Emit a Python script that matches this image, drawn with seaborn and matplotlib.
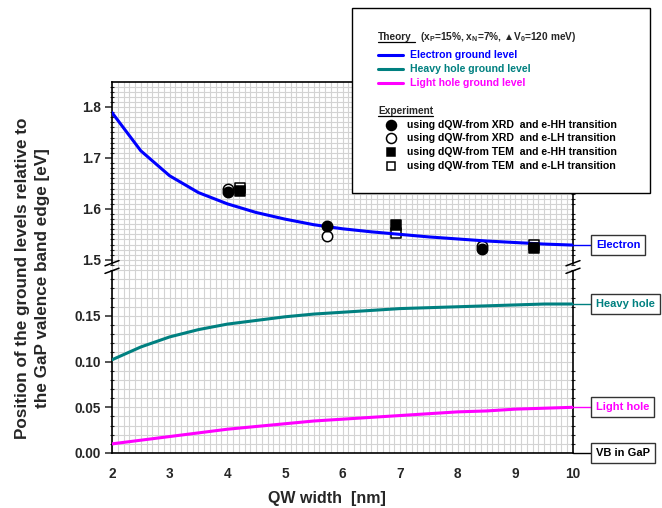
import numpy as np
import pandas as pd
import seaborn as sns
import matplotlib
matplotlib.use("Agg")
import matplotlib.pyplot as plt
from matplotlib.lines import Line2D
from matplotlib.patches import Rectangle
import matplotlib.transforms as mtransforms
from matplotlib.ticker import MultipleLocator, FormatStrFormatter

# ---------------- data ----------------
qw_width = [2, 2.5, 3, 3.5, 4, 4.5, 5, 5.5, 6, 6.5, 7, 7.5, 8, 8.5, 9, 9.5, 10]
electron = [1.789, 1.714, 1.665, 1.632, 1.610, 1.593, 1.580, 1.569, 1.561,
            1.555, 1.550, 1.545, 1.541, 1.537, 1.534, 1.531, 1.529]
heavy_hole = [0.102, 0.116, 0.127, 0.135, 0.141, 0.145, 0.149, 0.152, 0.154,
              0.156, 0.158, 0.159, 0.160, 0.161, 0.162, 0.163, 0.163]
light_hole = [0.010, 0.014, 0.018, 0.022, 0.026, 0.029, 0.032, 0.035, 0.037,
              0.039, 0.041, 0.043, 0.045, 0.046, 0.048, 0.049, 0.050]

xrd_hh_x = [4.02, 5.73, 8.42]
xrd_hh_y = [1.634, 1.567, 1.522]
xrd_lh_x = [4.01, 5.73, 8.42]
xrd_lh_y = [1.640, 1.547, 1.527]
tem_hh_x = [4.22, 6.92, 9.32]
tem_hh_y = [1.635, 1.569, 1.524]
tem_lh_x = [4.22, 6.92, 9.32]
tem_lh_y = [1.641, 1.552, 1.530]

x_ticks = [2, 3, 4, 5, 6, 7, 8, 9, 10]
top_ticks = [1.5, 1.6, 1.7, 1.8]
bot_ticks = [0.00, 0.05, 0.10, 0.15]

C_E = "#0000ff"
C_HH = "#008080"
C_LH = "#ff00ff"
GRID = "#d3d3d3"

# ---------------- style ----------------
sns.set_style("white")
plt.rcParams["font.family"] = ["Liberation Sans", "DejaVu Sans"]
plt.rcParams["font.weight"] = "bold"
plt.rcParams["mathtext.fontset"] = "custom"
plt.rcParams["mathtext.bf"] = "Liberation Sans:bold"
plt.rcParams["mathtext.rm"] = "Liberation Sans:bold"
plt.rcParams["mathtext.it"] = "Liberation Sans:bold"
plt.rcParams["mathtext.default"] = "bf"

W, H = 662, 508
fig = plt.figure(figsize=(W / 100, H / 100), dpi=100)


def fx(px):
    return px / W


def fy(py):
    return 1 - py / H


L, R, T, B, MID = 112, 573, 82, 453, 267
ax_top = fig.add_axes([fx(L), fy(MID), fx(R) - fx(L), fy(T) - fy(MID)])
ax_bot = fig.add_axes([fx(L), fy(B), fx(R) - fx(L), fy(MID) - fy(B)], sharex=ax_top)

ax_top.set_ylim(1.486, 1.849)
ax_bot.set_ylim(0, 0.2035)
ax_bot.set_xlim(2, 10)

for ax in (ax_top, ax_bot):
    ax.set_facecolor("white")
    ax.xaxis.set_major_locator(MultipleLocator(1))
    ax.xaxis.set_minor_locator(MultipleLocator(0.1))
    ax.yaxis.set_minor_locator(MultipleLocator(0.01))
    ax.grid(True, which="both", color=GRID, lw=0.8, zorder=0)
    ax.set_axisbelow(True)
    for s in ax.spines.values():
        s.set_color("black")
        s.set_linewidth(1.2)
    ax.tick_params(axis="y", which="major", direction="out", length=5, width=1.1,
                   labelsize=9.8, pad=3, left=True, right=False)
    ax.tick_params(axis="y", which="minor", direction="out", length=2.5, width=0.8,
                   left=True, right=True)
    for lab in ax.get_yticklabels():
        lab.set_fontweight("bold")

ax_top.set_yticks(top_ticks)
ax_top.yaxis.set_major_formatter(FormatStrFormatter("%.1f"))
ax_bot.set_yticks(bot_ticks)
ax_bot.yaxis.set_major_formatter(FormatStrFormatter("%.2f"))
ax_bot.set_xticks(x_ticks)
ax_bot.xaxis.set_major_formatter(FormatStrFormatter("%d"))

ax_top.spines["bottom"].set_visible(False)
ax_bot.spines["top"].set_visible(False)
ax_top.tick_params(axis="x", which="both", bottom=False, top=False, labelbottom=False)
ax_bot.tick_params(axis="x", which="major", direction="out", length=5, width=1.1,
                   labelsize=9.8, pad=5)
ax_bot.tick_params(axis="x", which="minor", direction="in", length=3, width=0.8)
ax_top.tick_params(axis="y", which="minor", right=True, direction="inout", length=3)
ax_bot.tick_params(axis="y", which="minor", right=True, direction="inout", length=3)

# gap in spines at the break
ax_top.spines["left"].set_bounds(1.4915, 1.849)
ax_top.spines["right"].set_bounds(1.4915, 1.849)
ax_bot.spines["left"].set_bounds(0, 0.1995)
ax_bot.spines["right"].set_bounds(0, 0.1995)

# ---------------- curves ----------------
df = pd.DataFrame({"w": qw_width, "e": electron, "hh": heavy_hole, "lh": light_hole})
sns.lineplot(data=df, x="w", y="e", color=C_E, lw=2.2, ax=ax_top, zorder=3)
sns.lineplot(data=df, x="w", y="hh", color=C_HH, lw=2.2, ax=ax_bot, zorder=3)
sns.lineplot(data=df, x="w", y="lh", color=C_LH, lw=2.2, ax=ax_bot, zorder=3)
for ax in (ax_top, ax_bot):
    ax.set_xlabel("")
    ax.set_ylabel("")

# experimental points
sns.scatterplot(x=xrd_lh_x, y=xrd_lh_y, marker="o", s=56, color="white",
                edgecolor="black", linewidth=1.1, ax=ax_top, zorder=2.5)
sns.scatterplot(x=tem_lh_x, y=tem_lh_y, marker="s", s=44, color="white",
                edgecolor="black", linewidth=1.1, ax=ax_top, zorder=2.5)
sns.scatterplot(x=xrd_hh_x, y=xrd_hh_y, marker="o", s=56, color="black",
                edgecolor="black", linewidth=1.1, ax=ax_top, zorder=4)
sns.scatterplot(x=tem_hh_x, y=tem_hh_y, marker="s", s=44, color="black",
                edgecolor="black", linewidth=1.1, ax=ax_top, zorder=4)

# break marks
for xc in (L, R):
    for yc in (MID - 3.8, MID + 3.8):
        fig.add_artist(Line2D([fx(xc - 7), fx(xc + 7)], [fy(yc + 2.6), fy(yc - 2.6)],
                              color="black", lw=1.1, zorder=10))

# ---------------- right-hand level labels ----------------
def level_label(ax, y, text, color, edge="#333333"):
    tr = mtransforms.blended_transform_factory(ax.transAxes, ax.transData)
    ax.plot([1.0, 1.039], [y, y], transform=tr, color=color, lw=1, clip_on=False, zorder=5)
    ax.text(1.0498, y, text, transform=tr, ha="left", va="center", fontsize=8,
            fontweight="bold", color=color, zorder=6,
            bbox=dict(boxstyle="square,pad=0.45", fc="white", ec=edge, lw=1))


level_label(ax_top, electron[-1], "Electron", C_E)
level_label(ax_bot, heavy_hole[-1], "Heavy hole", C_HH)
level_label(ax_bot, light_hole[-1], "Light hole", C_LH)
level_label(ax_bot, 0.0, "VB in GaP", "black")

# ---------------- axis labels ----------------
fig.text(fx(32.5), fy(278), "Position of the ground levels relative to\nthe GaP valence band edge [eV]",
         rotation=90, ha="center", va="center", fontsize=12.3, fontweight="bold",
         linespacing=1.45)
fig.text(fx(326.5), fy(499), "QW width  [nm]", ha="center", va="center",
         fontsize=11.5, fontweight="bold")

# ---------------- legend box ----------------
fig.add_artist(Rectangle((fx(352), fy(193)), fx(650) - fx(352), fy(8) - fy(193),
                         transform=fig.transFigure, fc="white", ec="black", lw=1, zorder=20))

t_theory = fig.text(fx(378), fy(37), "Theory", ha="left", va="center", fontsize=7.3,
                    fontweight="bold", zorder=21)
fig.text(fx(420), fy(37), "(x$_P$=15%, x$_N$=7%, \u25B2V$_0$=120 meV)", ha="left",
         va="center", fontsize=7.3, fontweight="bold", zorder=21)
t_exp = fig.text(fx(378), fy(111), "Experiment", ha="left", va="center", fontsize=7.3,
                 fontweight="bold", zorder=21)

theory_items = [("Electron ground level", C_E, 55),
                ("Heavy hole ground level", C_HH, 69),
                ("Light hole ground level", C_LH, 83)]
for txt, col, yy in theory_items:
    fig.add_artist(Line2D([fx(378), fx(403)], [fy(yy), fy(yy)], color=col, lw=2.2, zorder=21))
    fig.text(fx(410), fy(yy), txt, ha="left", va="center", fontsize=7.6,
             fontweight="bold", color=col, zorder=21)

exp_items = [("using dQW-from XRD  and e-HH transition", "o", "black", 125),
             ("using dQW-from XRD  and e-LH transition", "o", "white", 138),
             ("using dQW-from TEM  and e-HH transition", "s", "black", 152),
             ("using dQW-from TEM  and e-LH transition", "s", "white", 166)]
for txt, mk, fc, yy in exp_items:
    fig.add_artist(Line2D([fx(391)], [fy(yy)], marker=mk, ls="none",
                          markersize=7.2 if mk == "o" else 6.4,
                          markerfacecolor=fc, markeredgecolor="black",
                          markeredgewidth=1.1, zorder=21))
    fig.text(fx(407), fy(yy), txt, ha="left", va="center", fontsize=7.6,
             fontweight="bold", color="black", zorder=21)

# underline headers
fig.canvas.draw()
rend = fig.canvas.get_renderer()
for t, extra in ((t_theory, 3), (t_exp, 0)):
    bb = t.get_window_extent(renderer=rend)
    yline = (bb.y0 + 0.5) / fig.bbox.height
    fig.add_artist(Line2D([bb.x0 / fig.bbox.width, (bb.x1 + extra) / fig.bbox.width],
                          [yline, yline], color="black", lw=0.9, zorder=21))

fig.savefig("out.png", dpi=100)
